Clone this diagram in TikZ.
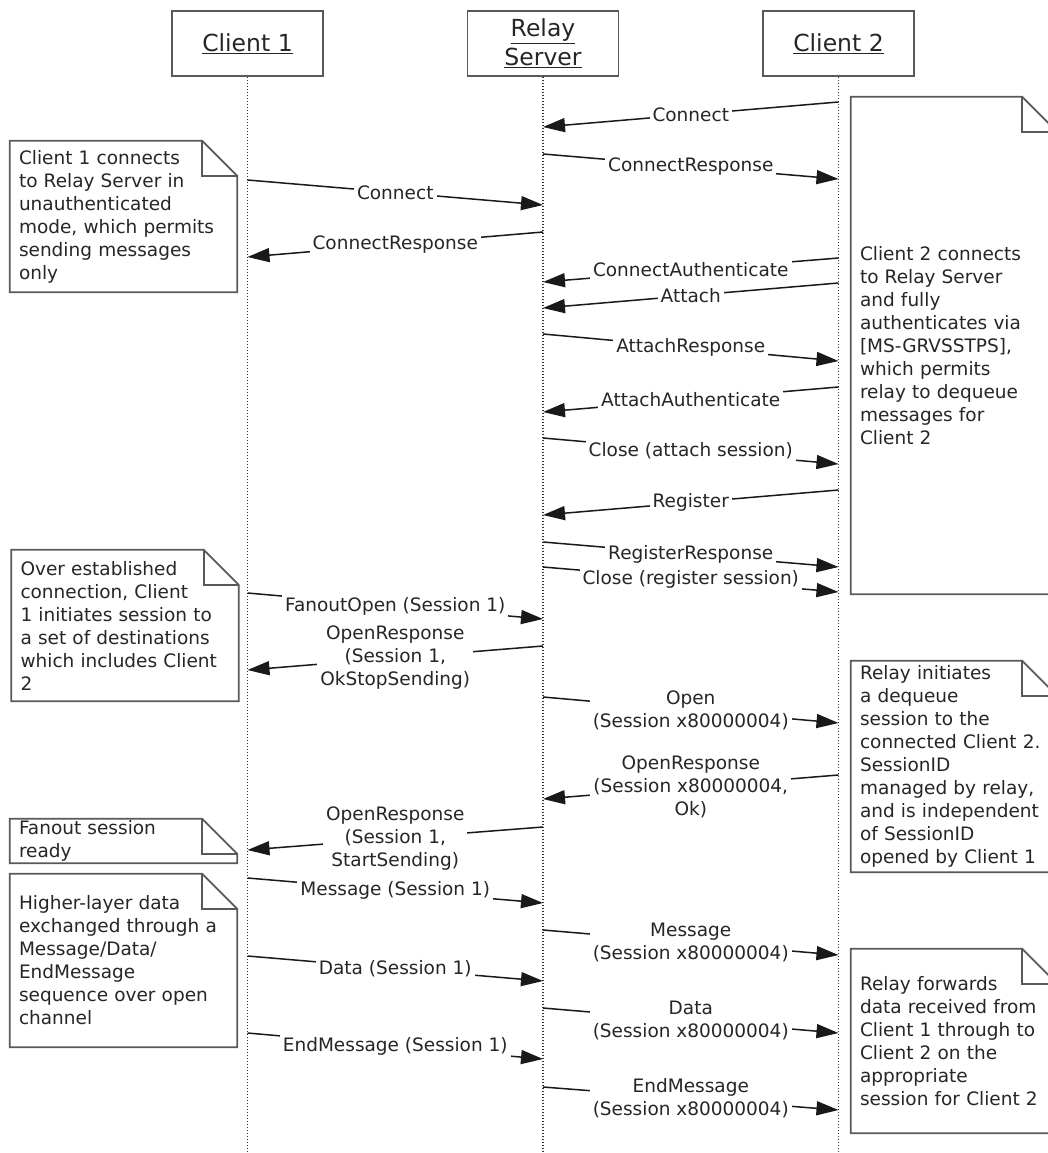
\documentclass[tikz,border=0pt]{standalone}
\usepackage{fontspec}
\setmainfont{DejaVu Sans}
\usepackage{tikz}
\usetikzlibrary{arrows.meta}

\tikzset{
  head/.style={draw=black!65, line width=1.8pt, minimum width=151pt, minimum height=65pt,
    align=center, text=black!85, font=\fontsize{23.5pt}{29pt}\selectfont},
  life/.style={black!80, line width=1.5pt, dash pattern=on 1.5pt off 1.5pt},
  msg/.style={black!90, line width=1.5pt, -{Triangle[length=22pt,width=14pt]}},
  lbl/.style={fill=white, inner sep=3pt, align=center, text=black!85,
    font=\fontsize{18.5pt}{23pt}\selectfont},
  note/.style={inner xsep=9pt, inner ysep=0pt, align=left, text=black!85,
    font=\fontsize{18.5pt}{23pt}\selectfont},
  noteline/.style={draw=black!65, line width=1.8pt, line join=miter}
}

% folded corner of a note
\newcommand{\notefold}[1]{%
  \draw[noteline] (#1.south west) -- (#1.north west) -- ([xshift=-35pt]#1.north east)
    -- ([yshift=-35pt]#1.north east) -- (#1.south east) -- cycle;
  \draw[noteline] ([xshift=-35pt]#1.north east) |- ([yshift=-35pt]#1.north east);}

\begin{document}
\begin{tikzpicture}[x=1pt, y=-1pt]
\useasboundingbox[fill=white] (0,0) rectangle (1047,1153);

% lifelines
\node[head] (c1) at (247.5,43.5) {\underline{Client 1}};
\node[head] (rs) at (543,43.5) {\underline{Relay}\\\underline{Server}};
\node[head] (c2) at (838.5,43.5) {\underline{Client 2}};
\coordinate (bottom) at (0,1153);
\draw[life] (c1.south) -- (c1 |- bottom);
\draw[life] (rs.south) -- (rs |- bottom);
\draw[life] (c2.south) -- (c2 |- bottom);

% notes
\node[note, text width=209pt, minimum height=151pt] (n1) at (123.5,216.5)
  {Client 1 connects\\to Relay Server in\\unauthenticated\\mode, which permits\\sending messages\\only};
\node[note, text width=209pt, minimum height=151pt] (n2) at (125,625.5)
  {Over established\\connection, Client\\1 initiates session to\\a set of destinations\\which includes Client\\2};
\node[note, text width=209pt, minimum height=44pt] (n3) at (123.5,841)
  {Fanout session\\ready};
\node[note, text width=209pt, minimum height=173pt] (n4) at (123.5,960.5)
  {Higher-layer data\\exchanged through a\\Message/Data/\\EndMessage\\sequence over open\\channel};
\node[note, text width=188pt, minimum height=497pt] (n5) at (954,345.5)
  {Client 2 connects\\to Relay Server\\and fully\\authenticates via\\{[MS-GRVSSTPS],}\\which permits\\relay to dequeue\\messages for\\Client 2};
\node[note, text width=188pt, minimum height=211pt] (n6) at (954,766.5)
  {Relay initiates\\a dequeue\\session to the\\connected Client 2.\\SessionID\\managed by relay,\\and is independent\\of SessionID\\opened by Client 1};
\node[note, text width=188pt, minimum height=184pt] (n7) at (954,1041)
  {Relay forwards\\data received from\\Client 1 through to\\Client 2 on the\\appropriate\\session for Client 2};
\notefold{n1} \notefold{n2} \notefold{n3} \notefold{n4}
\notefold{n5} \notefold{n6} \notefold{n7}

% messages
\draw[msg] (c2 |- 0,102) -- node[lbl]{Connect} (rs |- 0,127);
\draw[msg] (rs |- 0,154) -- node[lbl]{ConnectResponse} (c2 |- 0,179);
\draw[msg] (c1 |- 0,180) -- node[lbl]{Connect} (rs |- 0,205);
\draw[msg] (rs |- 0,232) -- node[lbl]{ConnectResponse} (c1 |- 0,257);
\draw[msg] (c2 |- 0,258) -- node[lbl]{ConnectAuthenticate} (rs |- 0,282);
\draw[msg] (c2 |- 0,283) -- node[lbl]{Attach} (rs |- 0,308);
\draw[msg] (rs |- 0,334) -- node[lbl]{AttachResponse} (c2 |- 0,361);
\draw[msg] (c2 |- 0,387) -- node[lbl]{AttachAuthenticate} (rs |- 0,412);
\draw[msg] (rs |- 0,438) -- node[lbl]{Close (attach session)} (c2 |- 0,464);
\draw[msg] (c2 |- 0,490) -- node[lbl]{Register} (rs |- 0,515);
\draw[msg] (rs |- 0,542) -- node[lbl]{RegisterResponse} (c2 |- 0,567);
\draw[msg] (rs |- 0,567) -- node[lbl]{Close (register session)} (c2 |- 0,592);
\draw[msg] (c1 |- 0,593) -- node[lbl]{FanoutOpen (Session 1)} (rs |- 0,619);
\draw[msg] (rs |- 0,646) -- node[lbl]{OpenResponse\\(Session 1,\\OkStopSending)} (c1 |- 0,670);
\draw[msg] (rs |- 0,697) -- node[lbl]{Open\\(Session x80000004)} (c2 |- 0,723);
\draw[msg] (c2 |- 0,775) -- node[lbl]{OpenResponse\\(Session x80000004,\\Ok)} (rs |- 0,799);
\draw[msg] (rs |- 0,827) -- node[lbl]{OpenResponse\\(Session 1,\\StartSending)} (c1 |- 0,850);
\draw[msg] (c1 |- 0,878) -- node[lbl]{Message (Session 1)} (rs |- 0,903);
\draw[msg] (rs |- 0,930) -- node[lbl]{Message\\(Session x80000004)} (c2 |- 0,955);
\draw[msg] (c1 |- 0,956) -- node[lbl]{Data (Session 1)} (rs |- 0,981);
\draw[msg] (rs |- 0,1008) -- node[lbl]{Data\\(Session x80000004)} (c2 |- 0,1033);
\draw[msg] (c1 |- 0,1033) -- node[lbl]{EndMessage (Session 1)} (rs |- 0,1059);
\draw[msg] (rs |- 0,1087) -- node[lbl]{EndMessage\\(Session x80000004)} (c2 |- 0,1110);
\end{tikzpicture}
\end{document}
